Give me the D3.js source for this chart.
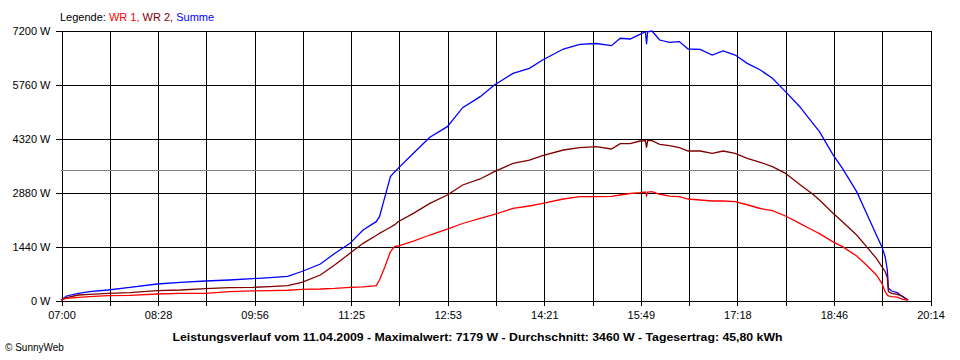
<!DOCTYPE html>
<html>
<head>
<meta charset="utf-8">
<script src="https://cdn.jsdelivr.net/npm/d3@7"></script>
<style>
  html, body { margin: 0; padding: 0; background: #fff; }
  svg { display: block; }
  text { font-family: "Liberation Sans", Arial, sans-serif; }
</style>
</head>
<body>
<svg id="chart" width="960" height="360"></svg>
<script>
// ---- data ----
const times = ["07:00","07:05","07:16","07:26","07:43","08:03","08:28","08:49","09:12","09:34","09:55","10:11","10:27","10:40","10:57","11:10","11:24","11:36","11:48","11:51","11:56","12:01","12:05","12:08","12:22","12:37","12:53","13:07","13:23","13:36","13:53","14:08","14:20","14:39","14:54","15:09","15:23","15:31","15:40","15:49","15:54","15:55","15:56","16:00","16:07","16:16","16:25","16:33","16:44","16:55","17:05","17:16","17:27","17:39","17:50","18:02","18:15","18:27","18:33","18:45","18:54","19:07","19:16","19:25","19:30","19:33","19:35","19:36","19:39","19:44","19:49","19:52","19:54"];
const wr1 = [0,44,71,89,115,125,160,178,178,222,245,249,260,284,293,310,338,350,382,533,889,1289,1422,1440,1573,1733,1890,2040,2178,2284,2444,2507,2578,2693,2755,2755,2765,2800,2840,2862,2880,2780,2880,2889,2820,2770,2755,2693,2667,2640,2640,2622,2540,2440,2382,2240,2044,1860,1770,1556,1422,1173,933,667,444,222,133,110,89,75,18,5,0];
const wr2 = [0,62,133,151,178,196,249,267,305,329,338,356,382,471,667,933,1244,1511,1720,1778,1860,1940,2010,2089,2311,2578,2800,3067,3227,3422,3644,3733,3849,4000,4062,4089,4027,4170,4170,4240,4250,4060,4250,4249,4151,4115,4062,3973,3973,3911,3973,3911,3778,3671,3555,3378,3080,2818,2667,2329,2089,1733,1422,1111,889,760,600,222,178,150,100,27,0];
const summe = [0,107,178,222,267,338,427,471,507,533,569,596,630,760,960,1240,1511,1867,2089,2222,2755,3289,3422,3511,3911,4340,4622,5130,5422,5733,6044,6178,6400,6693,6818,6840,6782,6980,6960,7085,7155,6820,7150,7173,6933,6871,6890,6693,6684,6533,6640,6533,6311,6133,5911,5556,5155,4711,4489,3890,3511,2889,2311,1733,1422,1155,800,311,240,196,89,40,0];
const yTicks = [0,1440,2880,4320,5760,7200];
const xTickLabels = ["07:00","08:28","09:56","11:25","12:53","14:21","15:49","17:18","18:46","20:14"];
const average = 3460;
const seriesNames = ["WR 1","WR 2","Summe"];
const seriesColors = ["#ff0000","#800000","#0000ff"];
const titleText = "Leistungsverlauf vom 11.04.2009 - Maximalwert: 7179 W - Durchschnitt: 3460 W - Tagesertrag: 45,80 kWh";
const footerText = "\u00A9 SunnyWeb";

// ---- helpers ----
const toMin = s => { const [h, m] = s.split(":").map(Number); return h * 60 + m; };
const tStart = toMin(xTickLabels[0]);
const tEnd = toMin(xTickLabels[xTickLabels.length - 1]);
const nGrid = (xTickLabels.length - 1) * 2;
const gridTimes = d3.range(nGrid + 1).map(i => tStart + i * (tEnd - tStart) / nGrid);

const svg = d3.select("#chart");
const pLeft = 61, pRight = 930, pTop = 30, pBottom = 300;

const x = d3.scaleLinear().domain([tStart, tEnd]).range([pLeft, pRight]);
const y = d3.scaleLinear().domain([0, 7200]).range([pBottom, pTop]);

const crisp = v => Math.round(v) + 0.5;

// vertical grid + bottom ticks
const gX = svg.append("g").attr("transform", `translate(0.5,${crisp(pBottom)})`)
  .call(d3.axisBottom(x).tickValues(gridTimes).tickSizeInner(5).tickSizeOuter(0)
    .tickFormat((d, i) => i % 2 === 0 ? xTickLabels[i / 2] : ""));
gX.select(".domain").attr("stroke", "#000");
gX.selectAll(".tick line").attr("stroke", "#000").attr("y1", -(pBottom - pTop)).attr("y2", 5)
  .attr("shape-rendering", "crispEdges");
gX.selectAll(".tick text").attr("font-size", 11).attr("fill", "#000").attr("dy", "0.71em").attr("y", 11)
  .attr("font-family", "Liberation Sans, Arial, sans-serif");

// horizontal grid + left ticks
const gY = svg.append("g").attr("transform", `translate(${crisp(pLeft)},0.5)`)
  .call(d3.axisLeft(y).tickValues(yTicks).tickSizeInner(6).tickSizeOuter(0)
    .tickFormat(d => d + " W"));
gY.select(".domain").attr("stroke", "#000");
gY.selectAll(".tick line").attr("stroke", "#000").attr("x1", -6).attr("x2", pRight - pLeft)
  .attr("shape-rendering", "crispEdges");
gY.selectAll(".tick text").attr("font-size", 11).attr("fill", "#000").attr("x", -11)
  .attr("font-family", "Liberation Sans, Arial, sans-serif");
svg.selectAll(".domain").attr("shape-rendering", "crispEdges");

// average line
svg.append("line")
  .attr("x1", pLeft).attr("x2", pRight)
  .attr("y1", crisp(y(average))).attr("y2", crisp(y(average)))
  .attr("stroke", "#808080").attr("stroke-width", 1).attr("shape-rendering", "crispEdges");

// series
const tm = times.map(toMin);
const line = d3.line().x((d, i) => x(tm[i])).y(d => y(d)).curve(d3.curveLinear);
[summe, wr2, wr1].forEach((s, k) => {
  const color = seriesColors[2 - k];
  svg.append("path").datum(s).attr("d", line)
    .attr("fill", "none").attr("stroke", color).attr("stroke-width", 1.3)
    .attr("stroke-linejoin", "miter");
});

// legend
const leg = svg.append("text").attr("x", 60).attr("y", 21).attr("font-size", 11);
leg.append("tspan").attr("fill", "#000").text("Legende: ");
seriesNames.forEach((n, i) => {
  leg.append("tspan").attr("fill", seriesColors[i]).text(n + (i < seriesNames.length - 1 ? ", " : ""));
});

// title
svg.append("text").attr("x", 477.5).attr("y", 341).attr("text-anchor", "middle")
  .attr("font-size", 11.5).attr("font-weight", "bold").attr("fill", "#000")
  .attr("textLength", 610).attr("lengthAdjust", "spacingAndGlyphs")
  .text(titleText);

// footer
svg.append("text").attr("x", 5).attr("y", 351).attr("font-size", 10).attr("fill", "#000")
  .text(footerText);
</script>
</body>
</html>
